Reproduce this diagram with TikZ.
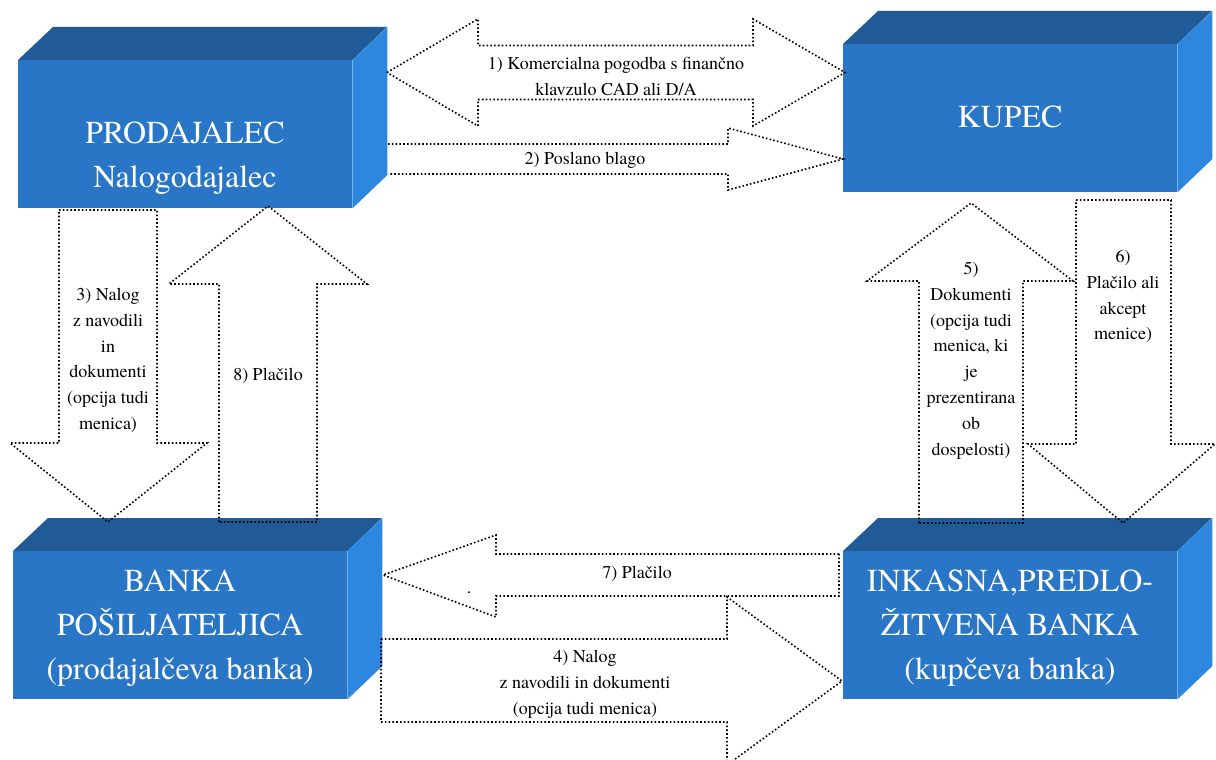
\documentclass[tikz,border=0pt]{standalone}
\usepackage{fontspec}
\IfFontExistsTF{texgyretermes-regular.otf}{\setmainfont{texgyretermes-regular.otf}}{}
\definecolor{topblue}{HTML}{205B98}
\definecolor{frontblue}{HTML}{2A76C6}
\definecolor{sideblue}{HTML}{2E87DF}
\newcommand\mycuboid[1]{%
  \fill[topblue] (#1.north west) -- ++(35,-33) -- ++(334,0) -- (#1.north east) -- cycle;
  \fill[sideblue] (#1.north east) -- ++(35,-33) -- ++(0,148) -- (#1.south east) -- cycle;}
\begin{document}
\begin{tikzpicture}[x=1pt,y=-1pt,
  front/.style={rectangle, fill=frontblue, minimum width=334pt, minimum height=148pt, inner sep=0pt, anchor=north west},
  bigtxt/.style={text=white, font=\fontsize{32}{44}\selectfont, align=center, inner sep=0pt, anchor=north},
  lbl/.style={font=\fontsize{18}{25.8}\selectfont, align=center, inner sep=0pt, anchor=north},
  blk/.style={draw=black, line width=1.6pt, dash pattern=on 1.6pt off 2.2pt}]
\useasboundingbox (0,0) rectangle (1216,760);

% boxes
\node[front] (P) at (18,60) {};
\node[front] (K) at (843,44) {};
\node[front] (B) at (13,551) {};
\node[front] (I) at (843,551) {};
\mycuboid{P}
\mycuboid{K}
\mycuboid{B}
\mycuboid{I}

\node[bigtxt] (tP) at (185,122) {PRODAJALEC\\Nalogodajalec};
\node[bigtxt] (tK) at (1010,106) {KUPEC};
\node[bigtxt] (tB) at (180,570) {BANKA\\POŠILJATELJICA\\(prodajalčeva banka)};
\node[bigtxt] (tI) at (1010,570) {INKASNA,PREDLO-\\ŽITVENA BANKA\\(kupčeva banka)};

% block arrows
% 1) double arrow
\draw[blk] (387,72.5) -- (478,19) -- (478,45.5) -- (753,45.5) -- (753,19) -- (845,72.5)
  -- (753,126) -- (753,99.5) -- (478,99.5) -- (478,126) -- cycle;
% 2) right arrow (left end under box)
\draw[blk] (388,144) -- (728,144) -- (728,128) -- (843,159) -- (728,190) -- (728,174) -- (388,174);
% 3) down
\draw[blk] (59,210) -- (157,210) -- (157,443) -- (207,443) -- (108,522) -- (10,443) -- (59,443) -- cycle;
% 8) up
\draw[blk] (219,522) -- (219,284) -- (169,284) -- (268,206) -- (367,284) -- (317,284) -- (317,522) -- cycle;
% 5) up
\draw[blk] (919,523) -- (919,281) -- (867,281) -- (971,203) -- (1073,281) -- (1023,281) -- (1023,523) -- cycle;
% 6) down
\draw[blk] (1076,200) -- (1171,200) -- (1171,444) -- (1215,444) -- (1123,523) -- (1028,444) -- (1076,444) -- cycle;
% 7) left
\draw[blk] (839,554) -- (496,554) -- (496,535) -- (383,575) -- (496,617) -- (496,596) -- (839,596) -- cycle;
% 4) right
\draw[blk] (381,639) -- (727,639) -- (727,597) -- (842,681) -- (727,765) -- (727,722) -- (381,722) -- cycle;

% labels
\node[lbl] (l1) at (616,57) {1) Komercialna pogodba s finančno\\klavzulo CAD ali D/A};
\node[lbl] (l2) at (585,152) {2) Poslano blago};
\node[lbl] (l3) at (108,288) {3) Nalog\\z navodili\\in\\dokumenti\\(opcija tudi\\menica)};
\node[lbl] (l8) at (268,368) {8) Plačilo};
\node[lbl] (l5) at (971,262) {5)\\Dokumenti\\(opcija tudi\\menica, ki\\je\\prezentirana\\ob\\dospelosti)};
\node[lbl] (l6) at (1123,250) {6)\\Plačilo ali\\akcept\\menice)};
\node[lbl] (l7) at (637,566) {7) Plačilo};
\node[lbl] (l4) at (585,650) {4) Nalog\\z navodili in dokumenti\\(opcija tudi menica)};
\node[lbl, anchor=base] (dot) at (469,593) {.};
\end{tikzpicture}
\end{document}
